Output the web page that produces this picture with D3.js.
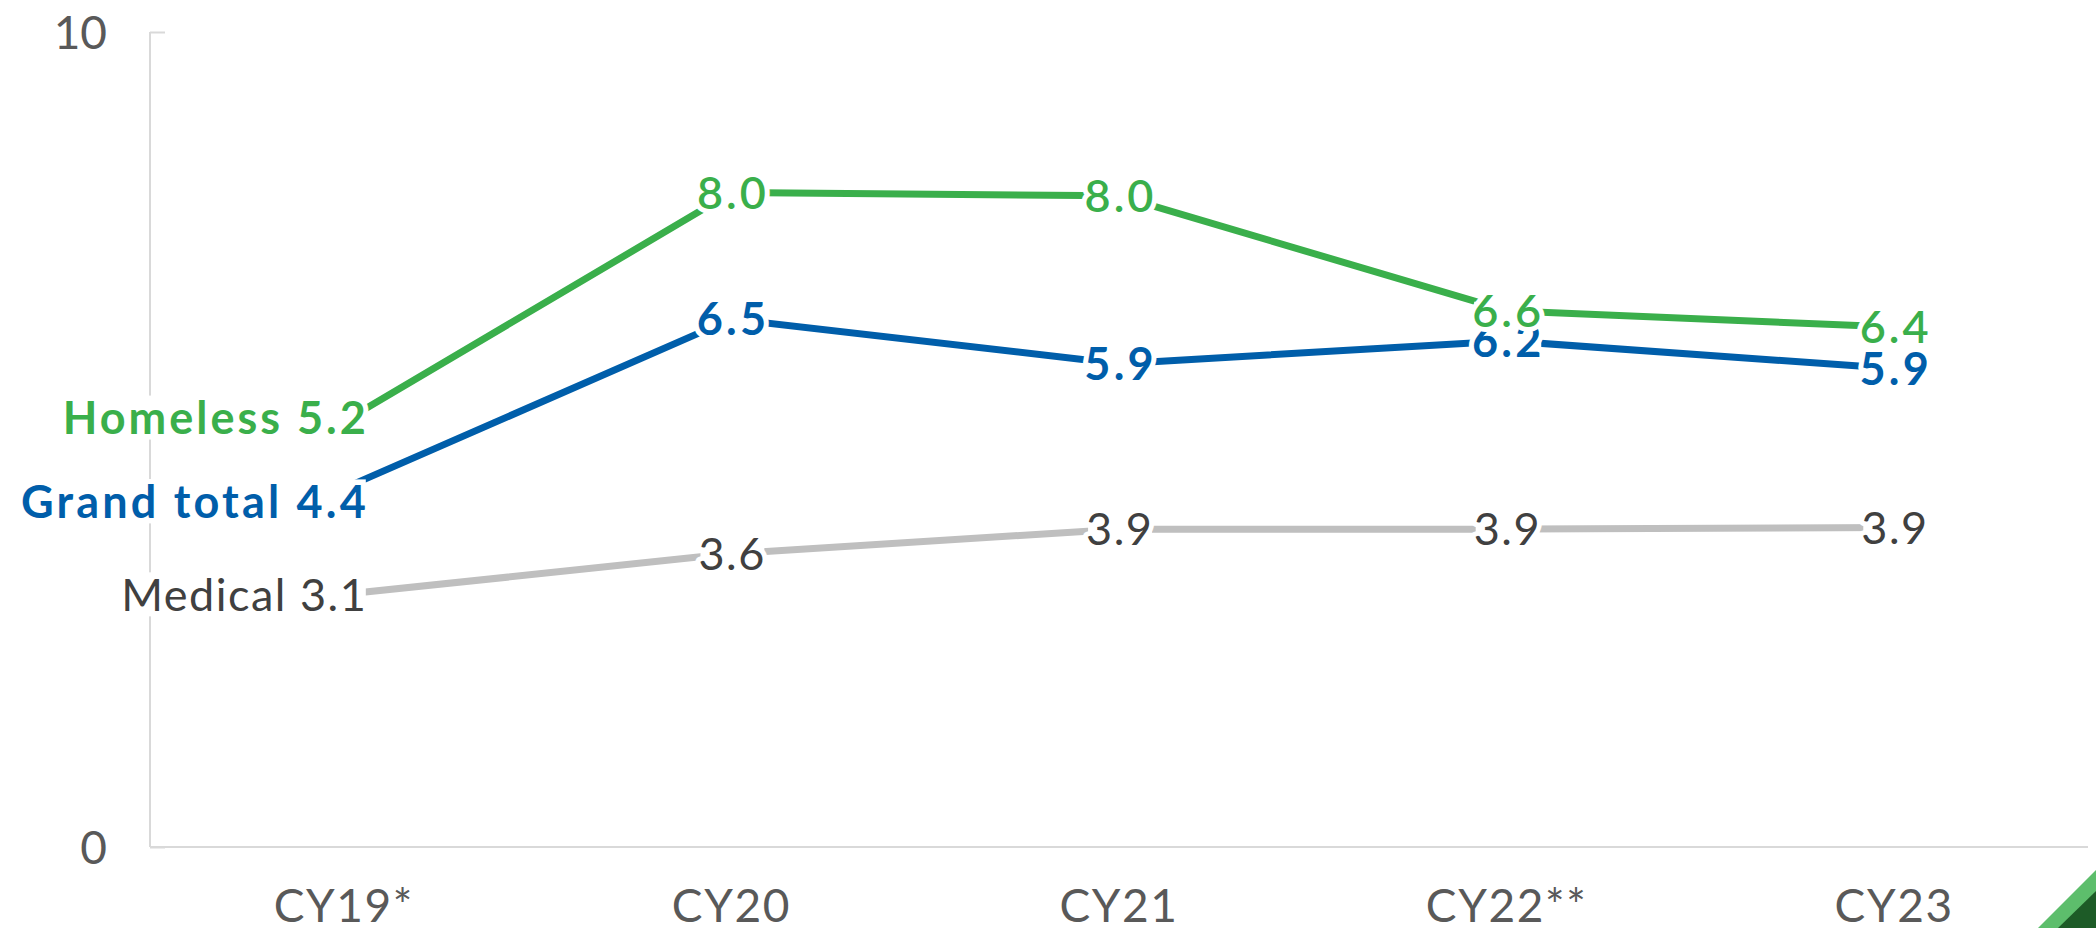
<!DOCTYPE html>
<html>
<head>
<meta charset="utf-8">
<script src="https://cdn.jsdelivr.net/npm/d3@7"></script>
<style>
  html, body { margin: 0; padding: 0; background: #fff; }
  svg { display: block; font-family: "Lato", "Open Sans", sans-serif; }
</style>
</head>
<body>
<svg id="chart" width="2096" height="928"></svg>
<script>
// categories and series
var categories = ["CY19*", "CY20", "CY21", "CY22**", "CY23"];
var homeless = [5.22, 8.03, 7.99, 6.58, 6.38];
var grandTotal = [4.4, 6.48, 5.93, 6.21, 5.87];
var medical = [3.1, 3.6, 3.9, 3.9, 3.92];
var yTicks = [0, 10];

var series = [
  { name: "Medical", values: medical, line: "#bfbfbf", text: "#404040", weight: 400, nameWeight: 400, nameDy: 0, spacing: 1.5 },
  { name: "Grand total", values: grandTotal, line: "#005eaa", text: "#005eaa", weight: 700, nameWeight: 700, nameDy: 13, spacing: 3.2 },
  { name: "Homeless", values: homeless, line: "#3aaf4b", text: "#3aaf4b", weight: 600, nameWeight: 700, nameDy: -4, spacing: 3 }
];

(function () {
  var svg = d3.select("#chart"),
      plotLeft = 150, plotRight = 2088, plotTop = 32, plotBottom = 847;

  var x = d3.scaleBand().domain(categories).range([plotLeft, plotRight]).padding(0);
  var y = d3.scaleLinear().domain([0, 10]).range([plotBottom, plotTop]);
  var fmt = d3.format(".1f");

  /* axes */
  var yAxis = svg.append("g").attr("transform", "translate(" + plotLeft + ",0)")
    .call(d3.axisLeft(y).tickValues(yTicks).tickFormat(d3.format("d")).tickSize(-15).tickPadding(43));
  var xAxis = svg.append("g").attr("transform", "translate(0," + plotBottom + ")")
    .call(d3.axisBottom(x).tickSize(0).tickPadding(42));

  [yAxis, xAxis].forEach(function (g) {
    g.select(".domain").attr("stroke", "#d9d9d9").attr("stroke-width", 2);
    g.selectAll(".tick line").attr("stroke", "#d9d9d9").attr("stroke-width", 2);
    g.selectAll(".tick text").attr("fill", "#595959").style("font-size", "46px")
      .style("font-family", "Lato, 'Open Sans', sans-serif");
  });
  yAxis.selectAll(".tick text").attr("dy", "0.36em");
  xAxis.selectAll(".tick text").style("letter-spacing", "1.6px");
  yAxis.select(".domain").attr("d", "M0," + plotTop + "V" + plotBottom);
  xAxis.select(".domain").attr("d", "M" + plotLeft + ",0H" + plotRight);

  /* lines */
  var line = d3.line()
    .x(function (d, i) { return x(categories[i]) + x.bandwidth() / 2; })
    .y(function (d) { return y(d); });

  svg.append("g").selectAll("path").data(series).enter().append("path")
    .attr("d", function (s) { return line(s.values); })
    .attr("fill", "none")
    .attr("stroke", function (s) { return s.line; })
    .attr("stroke-width", 7)
    .attr("stroke-linejoin", "round");

  /* data labels: white mask under each, then text with halo */
  var maskLayer = svg.append("g");
  var labelLayer = svg.append("g");

  series.forEach(function (s) {
    labelLayer.append("g").selectAll("text").data(s.values).enter().append("text")
      .attr("x", function (d, i) {
        var cx = x(categories[i]) + x.bandwidth() / 2;
        return i === 0 ? cx + 22 + s.spacing : cx + s.spacing / 2;
      })
      .attr("y", function (d, i) { return y(d) + (i === 0 ? s.nameDy : 0); })
      .attr("dy", "0.36em")
      .attr("text-anchor", function (d, i) { return i === 0 ? "end" : "middle"; })
      .attr("fill", s.text)
      .attr("stroke", "#fff")
      .attr("stroke-width", 10)
      .attr("stroke-linejoin", "round")
      .attr("paint-order", "stroke")
      .style("font-size", "45px")
      .style("letter-spacing", s.spacing + "px")
      .style("font-weight", function (d, i) { return i === 0 ? s.nameWeight : s.weight; })
      .text(function (d, i) { return i === 0 ? s.name + " " + fmt(d) : fmt(d); })
      .each(function (d, i) {
        var t = d3.select(this), b = this.getBBox(), mid = +t.attr("y");
        var h = i === 0 ? 44 : 18;
        maskLayer.append("rect")
          .attr("x", b.x + 2).attr("width", Math.max(0, b.width - 2 - s.spacing))
          .attr("y", mid - h / 2).attr("height", h)
          .attr("fill", "#fff");
      });
  });

  /* corner decoration */
  svg.append("polygon").attr("points", "2038,928 2096,870 2096,928").attr("fill", "#5dbe6c");
  svg.append("polygon").attr("points", "2058,928 2096,891 2096,928").attr("fill", "#1d5b27");
})();
</script>
</body>
</html>
